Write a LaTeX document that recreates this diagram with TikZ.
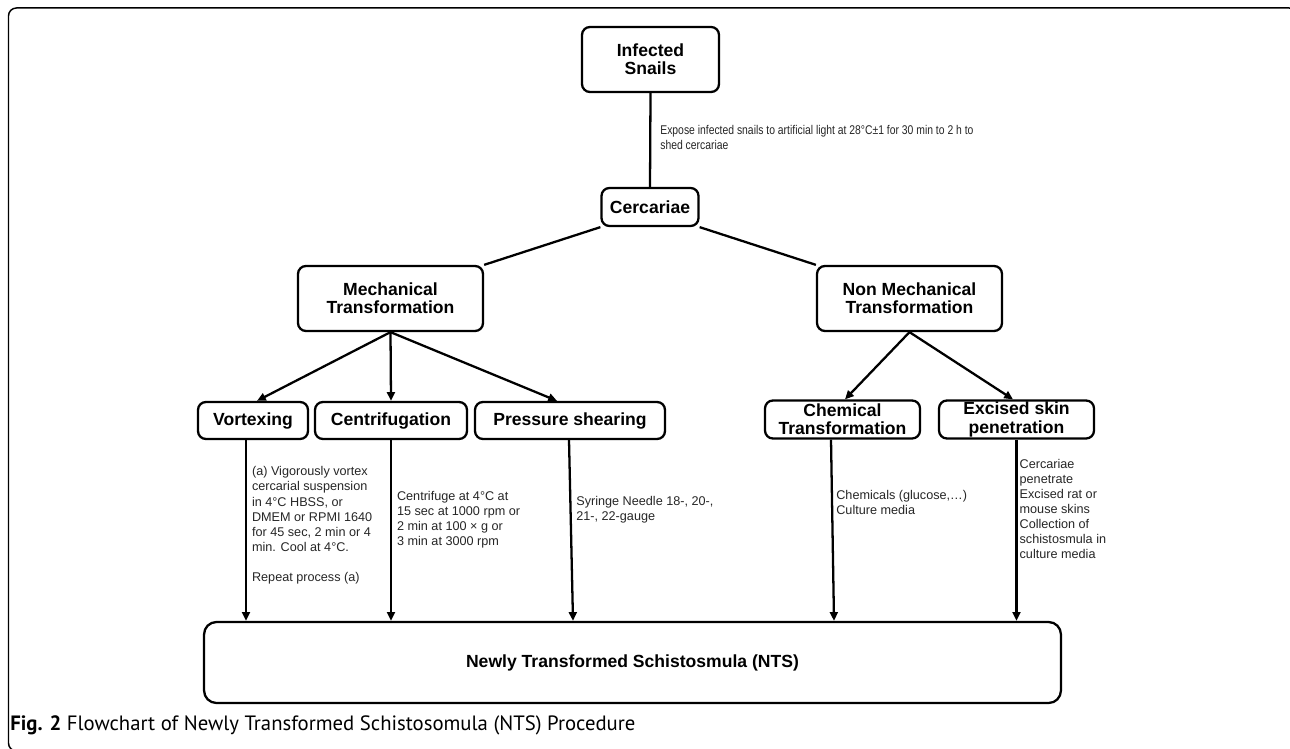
\documentclass[tikz,border=0pt]{standalone}
\usepackage{fontspec}
\setmainfont{Liberation Sans}
\newfontfamily\capfont{PT Sans}
\usetikzlibrary{arrows.meta,calc}
\begin{document}
\begin{tikzpicture}[x=0.02cm,y=-0.02cm,
 box/.style={draw, line width=1.3pt, rounded corners=4.5pt, align=center, inner sep=0pt, font=\bfseries\fontsize{10}{10.4}\selectfont},
 note/.style={anchor=west, align=left, inner sep=0pt, text=black!85, font=\fontsize{7.2}{8.6}\selectfont},
 conn/.style={line width=1.3pt},
 arr/.style={line width=1.3pt, -{Triangle[length=5pt,width=4.5pt]}},
]
\useasboundingbox (0,0) rectangle (1290,749);
\draw[line width=0.85pt, rounded corners=4.5pt] (8.5,8) rectangle (1297,751);

% nodes
\node[box, minimum width=27.4mm, minimum height=13mm] (snails) at (650.5,59.5) {Infected\\Snails};
\node[box, minimum width=19.4mm, minimum height=7.6mm] (cerc) at (650,207) {Cercariae};
\node[box, minimum width=37mm, minimum height=13mm] (mech) at (390.5,298.5) {Mechanical\\Transformation};
\node[box, minimum width=37mm, minimum height=13mm] (nonmech) at (909.5,298.5) {Non Mechanical\\Transformation};
\node[box, minimum width=22mm, minimum height=7.4mm] (vort) at (253,420.5) {Vortexing};
\node[box, minimum width=30.4mm, minimum height=7.4mm] (centr) at (391,420.5) {Centrifugation};
\node[box, minimum width=38mm, minimum height=7.4mm] (press) at (570,420.5) {Pressure shearing};
\node[box, minimum width=31mm, minimum height=7.6mm] (chem) at (842.5,419.5) {Chemical\\Transformation};
\node[box, minimum width=31mm, minimum height=7.6mm] (exc) at (1016.5,419.5) {Excised skin\\penetration};
\node[box, rounded corners=7pt, minimum width=171.4mm, minimum height=16.2mm] (nts) at (632.5,662.5) {Newly Transformed Schistosmula (NTS)};

% labels
\node[note] (lexp) at (660,137.5) {\scalebox{0.82}[1]{Expose infected snails to artificial light at 28°C±1 for 30 min to 2 h to}\\\scalebox{0.82}[1]{shed cercariae}};
\node[note] (lvort) at (251.7,525.4) {(a) Vigorously vortex\\cercarial suspension\\in 4°C HBSS, or\\DMEM or RPMI 1640\\for 45 sec, 2 min or 4\\min. Cool at 4°C.\\[8.6pt]Repeat process (a)};
\node[note] (lcentr) at (396.7,519.5) {Centrifuge at 4°C at\\15 sec at 1000 rpm or\\2 min at 100 × g or\\3 min at 3000 rpm};
\node[note] (lpress) at (576,510) {Syringe Needle 18-, 20-,\\21-, 22-gauge};
\node[note] (lchem) at (836,502.5) {Chemicals (glucose,…)\\Culture media};
\node[note] (lexc) at (1019.3,508.9) {Cercariae\\penetrate\\Excised rat or\\mouse skins\\Collection of\\schistosmula in\\culture media};

% caption
\node[anchor=west, inner sep=0pt, font=\capfont\fontsize{11.8}{13}\selectfont] (cap) at (10,725) {\textbf{Fig. 2} Flowchart of Newly Transformed Schistosomula (NTS) Procedure};

% connectors
\draw[conn] (snails.south) -- (cerc.north);
\draw[conn] (cerc.south west) -- (mech.north east);
\draw[conn] (cerc.south east) -- (nonmech.north west);
\draw[arr] (mech.south) -- ([xshift=0.8mm]vort.north);
\draw[arr] (mech.south) -- (centr.north);
\draw[arr] (mech.south) -- ([xshift=-2.6mm]press.north);
\draw[arr] (nonmech.south) -- ([xshift=0.5mm]chem.north);
\draw[arr] (nonmech.south) -- ([xshift=-0.7mm]exc.north);

\coordinate (v1) at ([xshift=-1.4mm]vort.south);
\coordinate (p1) at ([xshift=-0.2mm]press.south);
\coordinate (p2) at ([xshift=0.6mm]press.south);
\coordinate (c1) at ([xshift=-2.3mm]chem.south);
\coordinate (c2) at ([xshift=-1.7mm]chem.south);
\draw[arr] (v1) -- (v1 |- nts.north);
\draw[arr] (centr.south) -- (centr.south |- nts.north);
\draw[arr] (p1) -- (p2 |- nts.north);
\draw[arr] (c1) -- (c2 |- nts.north);
\draw[arr] (exc.south) -- (exc.south |- nts.north);
\end{tikzpicture}
\end{document}
